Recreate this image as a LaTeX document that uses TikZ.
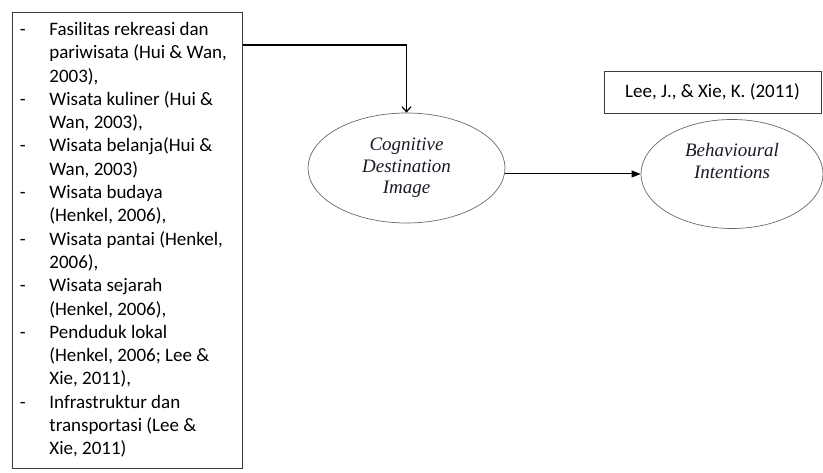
\documentclass[tikz,border=0pt]{standalone}
\usepackage{fontspec}
\setmainfont{Liberation Serif}
\newfontfamily\calibri{Carlito}
\usetikzlibrary{shapes.geometric,arrows.meta}
\definecolor{lineGray}{RGB}{60,60,60}
\definecolor{ovalGray}{RGB}{105,105,105}
\definecolor{inkBlack}{RGB}{25,25,40}

\begin{document}
\begin{tikzpicture}[x=1pt,y=-1pt,>=Latex,
  oval/.style={ellipse,draw=ovalGray,line width=0.7pt,inner sep=0pt,align=center,font=\fontsize{19}{21.3}\selectfont\itshape\color{inkBlack}},
  srcbox/.style={draw=lineGray,line width=0.8pt,fill=white}]
  \useasboundingbox (0,0) rectangle (823,473);
  % daftar atribut
  \node[srcbox,anchor=north west,inner xsep=7.5pt,inner ysep=6.7pt,font=\calibri\fontsize{19}{23.3}\selectfont] (atribut) at (12,12) {%
  \makebox[215pt][l]{\begin{tabular}{@{}p{29.5pt}@{}l@{}}
  - & Fasilitas rekreasi dan\\
    & pariwisata (Hui \& Wan,\\
    & 2003),\\
  - & Wisata kuliner (Hui \&\\
    & Wan, 2003),\\
  - & Wisata belanja(Hui \&\\
    & Wan, 2003)\\
  - & Wisata budaya\\
    & (Henkel, 2006),\\
  - & Wisata pantai (Henkel,\\
    & 2006),\\
  - & Wisata sejarah\\
    & (Henkel, 2006),\\
  - & Penduduk lokal\\
    & (Henkel, 2006; Lee \&\\
    & Xie, 2011),\\
  - & Infrastruktur dan\\
    & transportasi (Lee \&\\
    & Xie, 2011)
  \end{tabular}}};
  % variabel
  \node[oval,minimum width=197pt,minimum height=110pt] (cdi) at (406.5,168) {Cognitive\\Destination\\Image};
  \node[oval,minimum width=182pt,minimum height=109pt] (bi) at (732,174) {Behavioural\\Intentions\\[5pt]\mbox{}};
  \node[srcbox,minimum width=217pt,minimum height=42pt,inner sep=0pt,font=\calibri\fontsize{19}{23}\selectfont] (sumber) at (712.5,92) {Lee, J., \& Xie, K. (2011)};
  % panah
  \draw[->,line width=1.2pt,>={Straight Barb[length=5pt,width=9pt]}] ([yshift=-33pt]atribut.north east) -| (cdi.north);
  \draw[->,line width=1pt,>={Triangle[length=9pt,width=7pt]}] ([yshift=-6pt]cdi.east) -- ([yshift=-6pt]cdi.east -| bi.west);
\end{tikzpicture}
\end{document}
